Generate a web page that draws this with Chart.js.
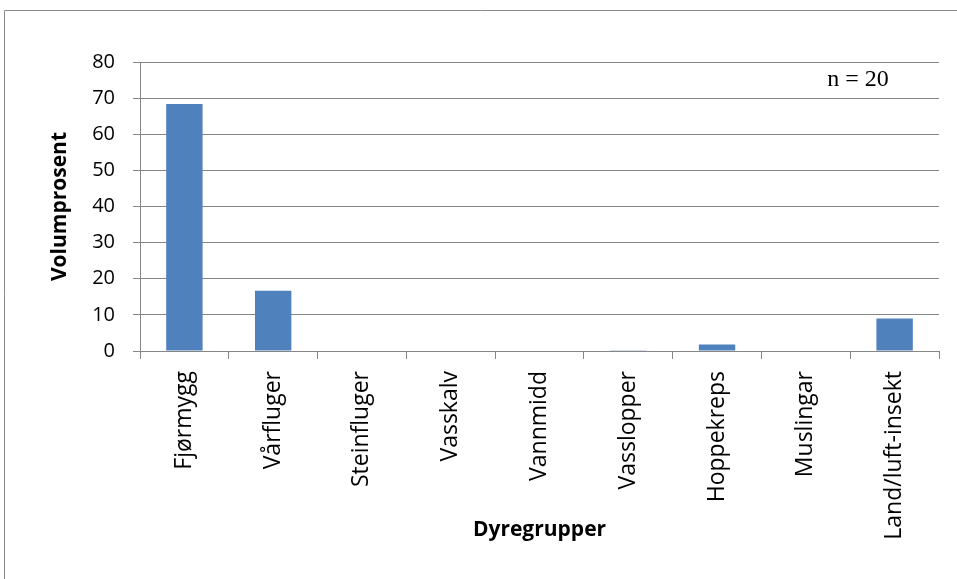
<!DOCTYPE html>
<html>
<head>
<meta charset="utf-8">
<script src="https://cdn.jsdelivr.net/npm/chart.js@4"></script>
<style>
  html, body { margin: 0; padding: 0; background: #fff; }
  #wrap { width: 957px; height: 579px; }
</style>
</head>
<body>
<div id="wrap"><canvas id="chart" width="957" height="579"></canvas></div>
<script>
// data
const categories = ['Fjørmygg', 'Vårfluger', 'Steinfluger', 'Vasskalv', 'Vannmidd', 'Vasslopper', 'Hoppekreps', 'Muslingar', 'Land/luft-insekt'];
const volumprosent = [68.4, 16.7, 0, 0, 0, 0.1, 1.8, 0, 9.0];
const yTicks = { min: 0, max: 80, step: 10 };

const gridGrey = '#868686';
const yTickFont = { family: '"Open Sans", Lato, sans-serif', size: 20 };
const xTickFont = { family: '"Open Sans", Lato, sans-serif', size: 23 };
const titleFont = { family: '"Open Sans", Lato, sans-serif', size: 21, weight: 'bold' };

// frame around the figure + the "n = 20" note
const decor = {
    id: 'decor',
    beforeDraw(chart) {
        const ctx = chart.ctx;
        ctx.save();
        ctx.fillStyle = '#fff';
        ctx.fillRect(0, 0, chart.width, chart.height);
        ctx.strokeStyle = '#8a8a8a';
        ctx.lineWidth = 1;
        ctx.beginPath();
        ctx.moveTo(4.5, chart.height);
        ctx.lineTo(4.5, 10.5);
        ctx.lineTo(chart.width, 10.5);
        ctx.stroke();
        ctx.restore();
    },
    afterDraw(chart) {
        const ctx = chart.ctx;
        ctx.save();
        ctx.fillStyle = '#000';
        ctx.font = '24px "Liberation Serif", "Times New Roman", serif';
        ctx.textAlign = 'center';
        ctx.textBaseline = 'middle';
        ctx.fillText('n = 20', 858, 80);
        ctx.restore();
    }
};

const ctx = document.getElementById('chart').getContext('2d');
new Chart(ctx, {
    type: 'bar',
    data: {
        labels: categories,
        datasets: [{
            label: 'Volumprosent',
            data: volumprosent,
            backgroundColor: '#4F81BD',
            borderWidth: 0,
            barPercentage: 0.41,
            categoryPercentage: 1
        }]
    },
    options: {
        responsive: false,
        animation: false,
        layout: { padding: { left: 0, right: 18, top: 62, bottom: 0 } },
        plugins: {
            legend: { display: false },
            tooltip: { enabled: false }
        },
        scales: {
            x: {
                afterFit: (scale) => { scale.height = 228; },
                grid: { color: gridGrey, drawOnChartArea: false, tickLength: 8, offset: true },
                border: { color: gridGrey, width: 1 },
                ticks: {
                    color: '#000', font: xTickFont, padding: 12,
                    minRotation: 90, maxRotation: 90, autoSkip: false
                },
                title: {
                    display: true, text: 'Dyregrupper', color: '#000', font: titleFont,
                    padding: { top: 0, bottom: 36 }
                }
            },
            y: {
                min: yTicks.min,
                max: yTicks.max,
                afterFit: (scale) => { scale.width = 140; },
                grid: { color: gridGrey, tickLength: 7 },
                border: { color: gridGrey, width: 1 },
                ticks: { stepSize: yTicks.step, color: '#000', font: yTickFont, padding: 18 },
                title: {
                    display: true, text: 'Volumprosent', color: '#000', font: titleFont,
                    padding: { top: 47, bottom: 0 }
                }
            }
        }
    },
    plugins: [decor]
});
</script>
</body>
</html>
